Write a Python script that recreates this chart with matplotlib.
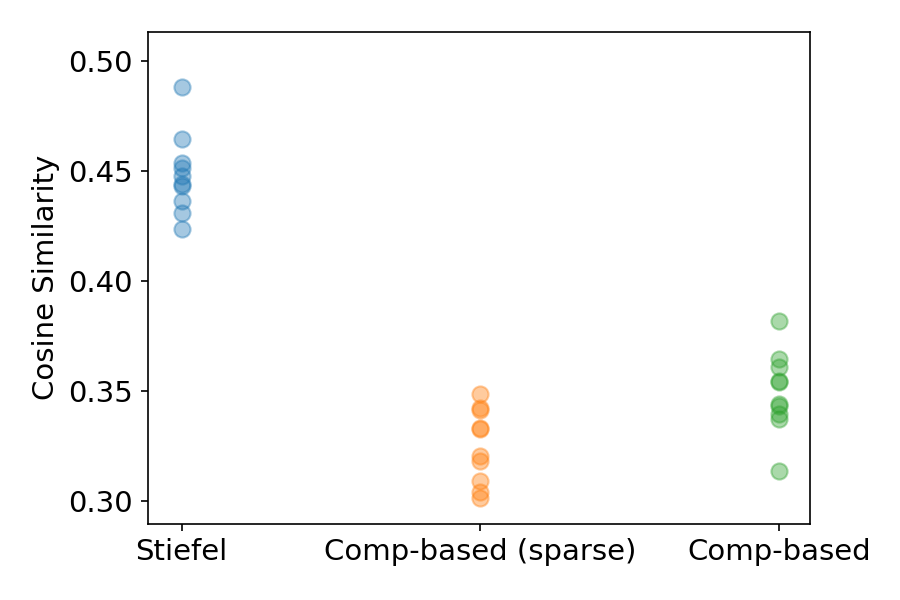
import matplotlib
matplotlib.use("Agg")
import matplotlib.pyplot as plt

methods = ["Stiefel", "Comp-based (sparse)", "Comp-based"]

stiefel = [0.4882, 0.4645, 0.4536, 0.4514, 0.4477, 0.4441, 0.4432, 0.4364, 0.4309, 0.4236]
comp_sparse = [0.3486, 0.3423, 0.3414, 0.3332, 0.3327, 0.3205, 0.3182, 0.3091, 0.3041, 0.3014]
comp_based = [0.3818, 0.3645, 0.3609, 0.3545, 0.3541, 0.3441, 0.3432, 0.3395, 0.3373, 0.3136]

series = [stiefel, comp_sparse, comp_based]
colors = ["#1f77b4", "#ff7f0e", "#2ca02c"]

fig, ax = plt.subplots(figsize=(6, 4), dpi=150)
fig.subplots_adjust(left=0.164, right=0.9, bottom=0.127, top=0.947)

for i, vals in enumerate(series):
    ax.scatter([i] * len(vals), vals, s=60, alpha=0.4, color=colors[i])

ax.set_xticks(range(len(methods)))
ax.set_xticklabels(methods, fontsize=14)
ax.tick_params(axis="y", labelsize=14)
ax.set_ylabel("Cosine Similarity", fontsize=14)
ax.set_xlim(-0.114, 2.104)
ax.set_ylim(0.2895, 0.5132)
ax.set_yticks([0.30, 0.35, 0.40, 0.45, 0.50])

fig.savefig("out.png", dpi=150)
